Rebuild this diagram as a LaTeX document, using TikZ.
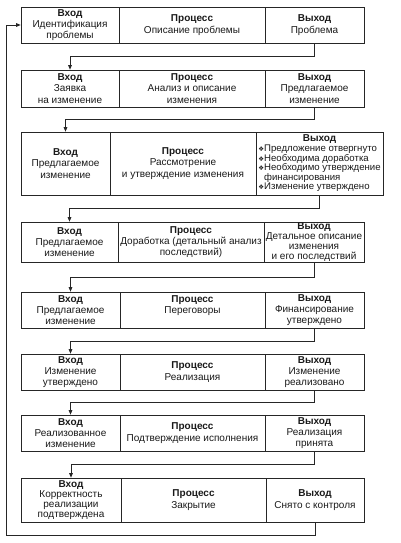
\documentclass[tikz,border=0pt]{standalone}
\usepackage{fontspec}
\setmainfont{Liberation Sans}
\newfontfamily\dejavu{DejaVu Sans}
\usetikzlibrary{arrows.meta,calc}
\newcommand\cellnode[6]{%
  \node[cell, minimum width={(#3-#2)*1pt}, minimum height={(#5-#4)*1pt}] (#1) at ({(#2+#3)/2},{(#4+#5)/2}) {#6};}
\newcommand\bul{{\dejavu\fontsize{6.5}{6.5}\selectfont ❖}\hspace{3.5pt}}
\tikzset{
  cell/.style={draw=black!85, line width=0.7pt, inner sep=0pt, align=center, text=black!90,
    font=\fontsize{10}{11.3}\selectfont},
  tight/.style={font=\fontsize{10}{10.2}\selectfont},
  conn/.style={draw=black!85, line width=0.7pt, -{Triangle[length=4.5pt,width=3.6pt]}},
  back/.style={draw=black!85, line width=0.7pt}
}
\begin{document}
\begin{tikzpicture}[x=1pt,y=-1pt]
\useasboundingbox (0,0) rectangle (401,543);
% Row 1
\cellnode{i1}{21}{119}{7}{43}{\textbf{Вход}\\Идентификация\\проблемы}
\cellnode{p1}{119}{265}{7}{43}{\textbf{Процесс}\\Описание проблемы}
\cellnode{o1}{265}{364}{7}{43}{\textbf{Выход}\\Проблема}
% Row 2
\cellnode{i2}{21}{119}{70}{107}{\textbf{Вход}\\Заявка\\на изменение}
\cellnode{p2}{119}{265}{70}{107}{\textbf{Процесс}\\Анализ и описание\\изменения}
\cellnode{o2}{265}{364}{70}{107}{\textbf{Выход}\\Предлагаемое\\изменение}
% Row 3
\cellnode{i3}{21}{110}{132}{195}{\textbf{Вход}\\Предлагаемое\\изменение}
\cellnode{p3}{110}{256}{132}{195}{\textbf{Процесс}\\Рассмотрение\\и утверждение изменения}
\node[cell, minimum width=127pt, minimum height=63pt] (o3) at (319.5,163.5) {\textbf{Выход}\\[-1.3pt]{\fontsize{9.6}{11}\selectfont\renewcommand\arraystretch{0.84}\begin{tabular}[t]{@{}l@{}l@{}}
\bul&Предложение отвергнуто\\
\bul&Необходима доработка\\
\bul&Необходимо утверждение\\
&финансирования\\
\bul&Изменение утверждено
\end{tabular}}};
% Row 4
\cellnode{i4}{21}{118}{222}{262}{\textbf{Вход}\\Предлагаемое\\изменение}
\cellnode{p4}{118}{264}{222}{262}{\textbf{Процесс}\\Доработка (детальный анализ\\последствий)}
\node[cell, tight, minimum width=100pt, minimum height=40pt] (o4) at (314,242) {\textbf{Выход}\\Детальное описание\\изменения\\и его последствий};
% Row 5
\cellnode{i5}{21}{120}{292}{328}{\textbf{Вход}\\Предлагаемое\\изменение}
\cellnode{p5}{120}{265}{292}{328}{\textbf{Процесс}\\Переговоры\\\mbox{}}
\cellnode{o5}{265}{364}{292}{328}{\textbf{Выход}\\Финансирование\\утверждено}
% Row 6
\cellnode{i6}{21}{120}{354}{390}{\textbf{Вход}\\Изменение\\утверждено}
\cellnode{p6}{120}{265}{354}{390}{\textbf{Процесс}\\Реализация}
\cellnode{o6}{265}{364}{354}{390}{\textbf{Выход}\\Изменение\\реализовано}
% Row 7
\cellnode{i7}{21}{120}{415}{451}{\textbf{Вход}\\Реализованное\\изменение}
\cellnode{p7}{120}{265}{415}{451}{\textbf{Процесс}\\Подтверждение исполнения}
\cellnode{o7}{265}{364}{415}{451}{\textbf{Выход}\\Реализация\\принята}
% Row 8
\node[cell, tight, minimum width=100pt, minimum height=44pt] (i8) at (71,500) {\textbf{Вход}\\Корректность\\реализации\\подтверждена};
\cellnode{p8}{121}{266}{478}{522}{\textbf{Процесс}\\Закрытие}
\cellnode{o8}{266}{364}{478}{522}{\textbf{Выход}\\Снято с контроля}
% Connectors
\foreach \a/\b in {1/2,2/3,3/4,4/5,5/6,6/7,7/8}{
  \draw[conn] (o\a.south) -- (o\a.south |- {$(o\a.south)!0.5!(i\b.north)$}) -| (i\b.north);
}
\coordinate (fb) at (6,535);
\draw[conn] (o8.south) |- (fb) |- (i1.west);
\end{tikzpicture}
\end{document}
